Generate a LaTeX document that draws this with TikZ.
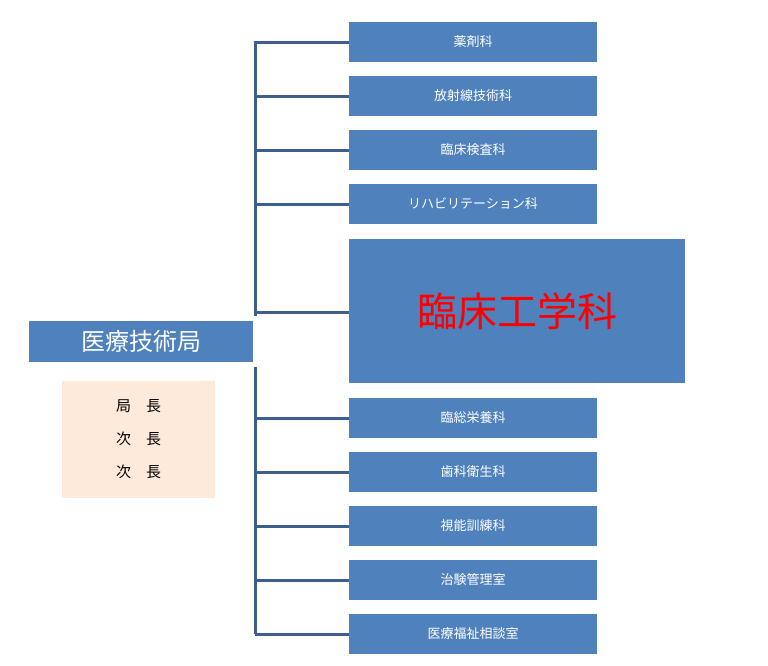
\documentclass[tikz,border=0pt]{standalone}
\usepackage{fontspec}
\newfontfamily\cjk{Noto Sans CJK JP}
\definecolor{boxblue}{HTML}{4F81BD}
\definecolor{linecol}{HTML}{3C5F8E}
\definecolor{peach}{HTML}{FDEADA}
\tikzset{
  kabox/.style={fill=boxblue,text=white,minimum width=248pt,minimum height=40pt,inner sep=0pt,font=\cjk\fontsize{13}{15}\selectfont},
  branch/.style={draw=linecol,line width=3pt}
}
\begin{document}
\begin{tikzpicture}[x=1pt,y=-1pt]
  \useasboundingbox (0,0) rectangle (768,665);
  % Node: head
  \node[fill=boxblue,text=white,minimum width=224pt,minimum height=41pt,inner sep=0pt,font=\cjk\fontsize{24}{28}\selectfont] (head) at (141,341.5) {医療技術局};
  \node[fill=peach,minimum width=153pt,minimum height=117pt,inner sep=0pt,align=center,font=\cjk\fontsize{15}{33}\selectfont] (chief) at (138.5,439.5) {局　長\\次　長\\次　長};
  % Nodes: sections
  \node[kabox] (k1) at (473,42) {薬剤科};
  \node[kabox] (k2) at (473,96) {放射線技術科};
  \node[kabox] (k3) at (473,150) {臨床検査科};
  \node[kabox] (k4) at (473,204) {リハビリテーション科};
  \node[kabox,minimum width=336pt,minimum height=144pt,text=red,font=\cjk\fontsize{40}{46}\selectfont] (k5) at (517,311) {臨床工学科};
  \node[kabox] (k6) at (473,418) {臨総栄養科};
  \node[kabox] (k7) at (473,472) {歯科衛生科};
  \node[kabox] (k8) at (473,526) {視能訓練科};
  \node[kabox] (k9) at (473,580) {治験管理室};
  \node[kabox] (k10) at (473,634) {医療福祉相談室};
  % Edges: trunk
  \coordinate (ta) at (255,41);
  \coordinate (tb) at (255,316);
  \coordinate (tc) at (255,367);
  \coordinate (td) at (255,634);
  \draw[branch] (ta) -- (tb);
  \draw[branch] (tc) -- (td);
  \foreach \k in {k1,k2,k3,k4,k6,k7,k8,k9,k10}
    \draw[branch] (\k.west -| ta) -- (\k.west);
  \draw[branch] (255,312) -- (349,312);
\end{tikzpicture}
\end{document}
